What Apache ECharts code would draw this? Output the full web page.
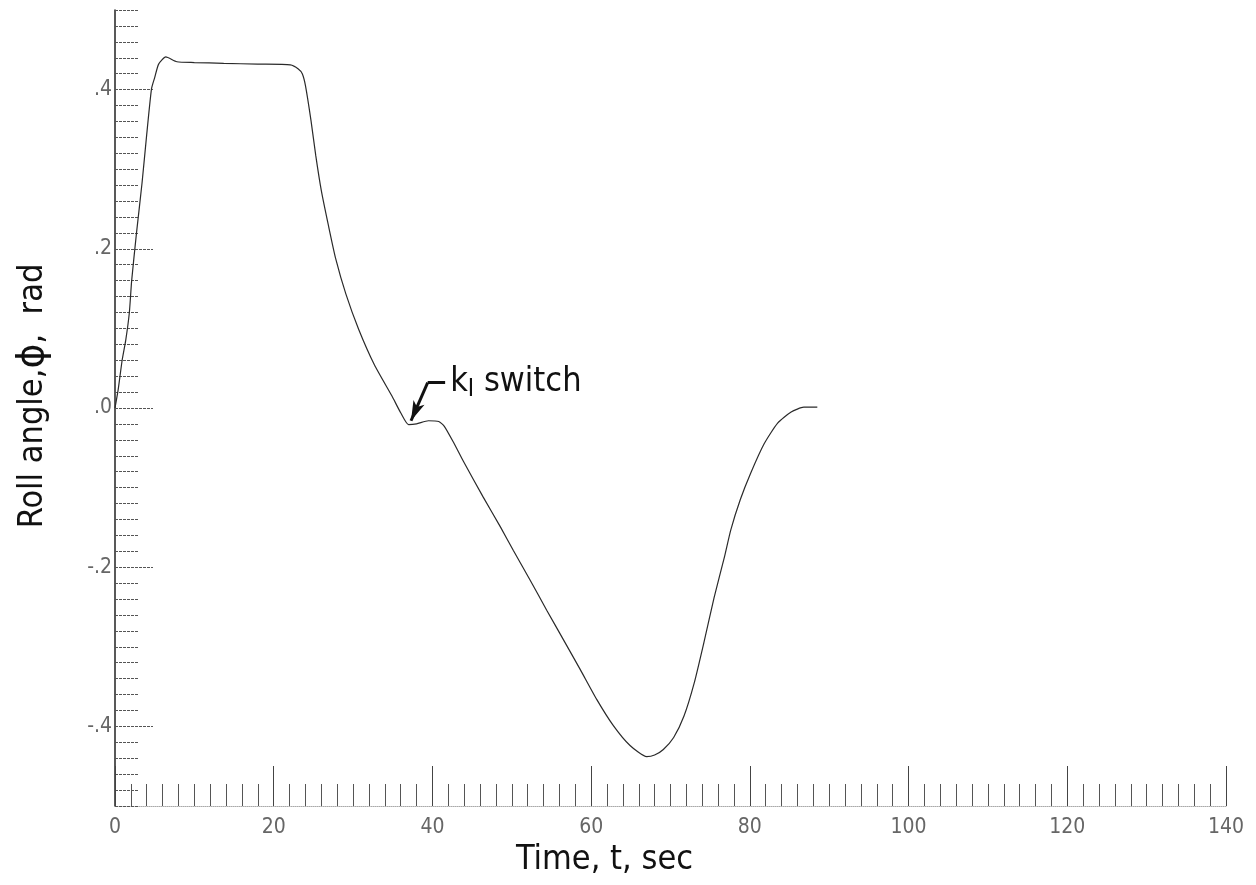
<!DOCTYPE html>
<html>
<head>
<meta charset="utf-8">
<title>Roll angle vs time</title>
<script src="https://cdn.jsdelivr.net/npm/echarts@6/dist/echarts.min.js"></script>
<style>
  html, body { margin: 0; padding: 0; background: #fff; }
  #chart { width: 1256px; height: 885px; }
</style>
</head>
<body>
<div id="chart"></div>
<script>
// Roll-angle time history (seconds, radians)
const timeSec = [0, 0.4, 0.9, 1.35, 1.8, 2.1, 2.7, 3.4, 4.0, 4.6,
  5.0, 5.5, 6.4, 7.8, 10, 13.7, 18, 22.1, 23.1, 23.6,
  24.0, 24.7, 25.3, 26.0, 26.9, 27.8, 29.1, 30.7, 32.7, 34.9,
  36.0, 37.0, 38.0, 39.5, 40.8, 41.5, 42.7, 43.9, 46.4, 48.6,
  50.2, 52.3, 54.4, 56.5, 58.6, 60.7, 62.8, 64.9, 67.0, 68.0,
  69.1, 70.4, 71.7, 73.0, 74.2, 75.5, 76.8, 77.6, 78.8, 80.1,
  81.8, 83.5, 85.2, 86.8, 88.5];
const rollRad = [0, 0.023, 0.06, 0.085, 0.119, 0.16, 0.219, 0.282, 0.344, 0.401,
  0.415, 0.432, 0.441, 0.435, 0.434, 0.433, 0.432, 0.431, 0.426, 0.420,
  0.405, 0.361, 0.317, 0.273, 0.229, 0.188, 0.143, 0.099, 0.054, 0.015,
  -0.006, -0.021, -0.020, -0.016, -0.017, -0.023, -0.044, -0.067, -0.112, -0.150,
  -0.179, -0.216, -0.254, -0.291, -0.328, -0.366, -0.399, -0.424, -0.438, -0.436,
  -0.429, -0.414, -0.387, -0.345, -0.295, -0.238, -0.187, -0.153, -0.115, -0.082,
  -0.045, -0.019, -0.005, 0.001, 0.001];

// Tick labels
const yLabelValues = [-0.4, -0.2, 0, 0.2, 0.4];
const yLabelTexts = ['-.4', '-.2', '.0', '.2', '.4'];

// Annotation: leader from the label to the dip where the gain switches
const leaderKnee = [39.4, 0.032];
const leaderEnd = [41.6, 0.032];
const leaderTip = [37.3, -0.016];

const labelFont = "'Liberation Sans Narrow', 'DejaVu Sans Condensed', sans-serif";
const titleFont = "'Liberation Sans Narrow', 'DejaVu Sans Condensed', sans-serif";

const chart = echarts.init(document.getElementById('chart'), null, { renderer: 'canvas' });

const option = {
  backgroundColor: '#ffffff',
  animation: false,
  grid: { left: 115, right: 30, top: 10, bottom: 79, containLabel: false },
  xAxis: [{
    type: 'value', min: 0, max: 140, interval: 20, position: 'bottom',
    name: 'Time, t, sec', nameLocation: 'middle', nameGap: 34,
    nameTextStyle: { fontFamily: titleFont, fontSize: 34, color: '#111', padding: [0, 132, 0, 0] },
    axisLine: { show: true, onZero: false, lineStyle: { color: '#aaa', width: 1, type: 'dotted' } },
    axisTick: { show: true, inside: true, length: 40, lineStyle: { color: '#444', width: 1 } },
    minorTick: { show: true, splitNumber: 10, length: 22, lineStyle: { color: '#555', width: 1 } },
    axisLabel: { show: true, margin: 11, fontFamily: labelFont, fontSize: 21, color: '#666' },
    splitLine: { show: false }, minorSplitLine: { show: false }
  }],
  yAxis: [{
    type: 'value', min: -0.5, max: 0.5, interval: 0.02, position: 'left', offset: 0,
    axisLine: { show: true, onZero: false, lineStyle: { color: '#222', width: 1.5 } },
    axisTick: { show: true, inside: true, length: 23, lineStyle: { color: '#555', width: 1, type: [3, 1] } },
    axisLabel: { show: false },
    splitLine: { show: false }
  }, {
    type: 'value', min: -0.5, max: 0.5, interval: 0.1, position: 'left', offset: 0,
    name: '{a|Roll angle,}{p|ϕ}{a|,  rad}', nameLocation: 'middle', nameRotate: 90, nameGap: 63,
    nameTextStyle: {
      padding: [0, 0, 0, 24],
      rich: {
        a: { fontFamily: titleFont, fontSize: 34, color: '#111' },
        p: { fontFamily: "'DejaVu Sans', sans-serif", fontSize: 38, color: '#111' }
      }
    },
    axisLine: { show: false, onZero: false },
    axisTick: { show: true, inside: true, length: 38, customValues: yLabelValues, lineStyle: { color: '#555', width: 1, type: [3, 1] } },
    axisLabel: {
      show: true, margin: 3, fontFamily: labelFont, fontSize: 21, color: '#666',
      customValues: yLabelValues,
      formatter: function (v) {
        for (let i = 0; i < yLabelValues.length; i++) {
          if (Math.abs(v - yLabelValues[i]) < 1e-6) return yLabelTexts[i];
        }
        return '';
      }
    },
    splitLine: { show: false }
  }],
  series: [{
    type: 'line',
    xAxisIndex: 0, yAxisIndex: 0,
    data: timeSec.map((t, i) => [t, rollRad[i]]),
    smooth: 0.2,
    showSymbol: false,
    lineStyle: { color: '#2a2a2a', width: 1.2 },
    markLine: {
      silent: true,
      animation: false,
      lineStyle: { color: '#111', width: 3, type: 'solid' },
      data: [
        [
          { coord: leaderKnee, symbol: 'none' },
          {
            coord: leaderEnd, symbol: 'none',
            label: {
              show: true, position: 'end', distance: 5,
              formatter: '{k|k}{s|I}{k| switch}',
              rich: {
                k: { fontFamily: titleFont, fontSize: 34, color: '#111', lineHeight: 40 },
                s: { fontFamily: titleFont, fontSize: 24, color: '#111', lineHeight: 40, padding: [14, 0, 0, 0] }
              }
            }
          }
        ],
        [
          { coord: leaderKnee, symbol: 'none' },
          { coord: leaderTip, symbol: 'arrow', symbolSize: [9, 20], label: { show: false } }
        ]
      ]
    }
  }]
};

chart.setOption(option);
</script>
</body>
</html>
